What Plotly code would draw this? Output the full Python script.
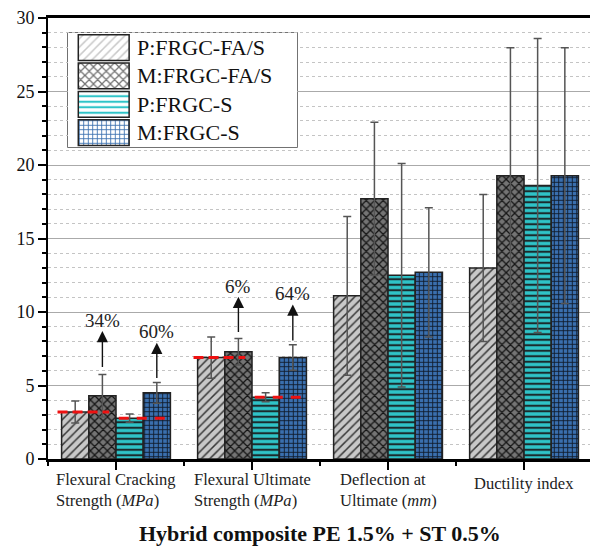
import plotly.graph_objects as go

# ---------------- data ----------------
categories = [
    "Flexural Cracking<br>Strength (<i>MPa</i>)",
    "Flexural Ultimate<br>Strength (<i>MPa</i>)",
    "Deflection at<br>Ultimate (<i>mm</i>)",
    "Ductility index",
]
series_names = ["P:FRGC-FA/S", "M:FRGC-FA/S", "P:FRGC-S", "M:FRGC-S"]

p_fas = [3.2, 6.9, 11.1, 13.0]
p_fas_err = [0.75, 1.4, 5.4, 5.0]
m_fas = [4.3, 7.3, 17.7, 19.27]
m_fas_err = [1.45, 0.9, 5.2, 8.7]
p_s = [2.78, 4.2, 12.5, 18.6]
p_s_err = [0.28, 0.3, 7.6, 10.0]
m_s = [4.5, 6.9, 12.7, 19.27]
m_s_err = [0.7, 0.87, 4.4, 8.7]

values = [p_fas, m_fas, p_s, m_s]
errors = [p_fas_err, m_fas_err, p_s_err, m_s_err]

y_tickvals = [0, 5, 10, 15, 20, 25, 30]

# percentage increase annotations (category index, series index, label, arrow tail, arrow head, label y)
pct_cat = [0, 0, 1, 1]
pct_series = [1, 3, 1, 3]
pct_labels = ["34%", "60%", "6%", "64%"]
pct_tail = [6.15, 5.4, 8.54, 7.96]
pct_head = [8.7, 7.9, 11.03, 10.51]
pct_text_y = [9.44, 8.65, 11.76, 11.26]

# reference (plain) levels shown with red dashed lines in the first two groups
ref_groups = [0, 1]

title_text = "<b>Hybrid composite PE 1.5% + ST 0.5%</b>"

# ---------------- style ----------------
FONT = "Liberation Serif"


def serif(t):
    return "<span style=\"font-family:'Liberation Serif',serif\">" + str(t) + "</span>"


bg_colors = ["#c8c8c8", "#747474", "#2fc4c8", "#3a6fae"]
fg_colors = ["#383838", "#151515", "#1b2b2d", "#0e1a28"]
pat_shapes = ["/", "x", "-", "+"]
pat_sizes = [6, 6, 5.5, 4.5]
pat_solid = [0.25, 0.38, 0.38, 0.35]

n = len(categories)
xs = list(range(n))
bar_w = 0.2
offsets = [(k - 1.5) * bar_w for k in range(4)]

fig = go.Figure()

for k in range(4):
    fig.add_trace(go.Bar(
        x=xs, y=values[k], name=series_names[k],
        marker=dict(color=bg_colors[k], line=dict(color="#222222", width=1.5),
                    pattern=dict(shape=pat_shapes[k], fgcolor=fg_colors[k], bgcolor=bg_colors[k],
                                 size=pat_sizes[k], solidity=pat_solid[k], fillmode="replace")),
        error_y=dict(type="data", array=errors[k], visible=True, color="#555555",
                     thickness=1.5, width=4),
        showlegend=False, hoverinfo="skip",
    ))

# custom legend swatches (on a helper subplot)
fig.add_trace(go.Bar(
    orientation="h", y=list(range(4)), x=[0.222] * 4, base=[0.045] * 4, width=0.91,
    xaxis="x3", yaxis="y3",
    marker=dict(color=bg_colors, line=dict(color="#222222", width=1.5),
                pattern=dict(shape=pat_shapes, fgcolor=fg_colors, bgcolor=bg_colors,
                             size=pat_sizes, solidity=pat_solid, fillmode="replace")),
    showlegend=False, hoverinfo="skip",
))

annotations = []
shapes = []

# legend box + labels
shapes.append(dict(type="rect", xref="x3 domain", yref="y3 domain", x0=0, x1=1, y0=0, y1=1,
                   line=dict(color="#444444", width=1.5), fillcolor="white", layer="below"))
for k in range(4):
    annotations.append(dict(xref="x3", yref="y3", x=0.293, y=k, text=serif(series_names[k]),
                            showarrow=False, xanchor="left", yanchor="middle",
                            font=dict(family=FONT, size=22, color="#111111")))

# red dashed reference lines
for g in ref_groups:
    shapes.append(dict(type="line", xref="x", yref="y",
                       x0=g + offsets[0] - 0.13, x1=g + offsets[1] + 0.05,
                       y0=p_fas[g], y1=p_fas[g], layer="above",
                       line=dict(color="#ee1111", width=3, dash="10px,5px")))
    shapes.append(dict(type="line", xref="x", yref="y",
                       x0=g + offsets[2] - 0.08, x1=g + offsets[3] + 0.1,
                       y0=p_s[g], y1=p_s[g], layer="above",
                       line=dict(color="#ee1111", width=3, dash="10px,8px")))

# arrows + percentage labels
for i in range(len(pct_labels)):
    xa = pct_cat[i] + offsets[pct_series[i]]
    annotations.append(dict(xref="x", yref="y", axref="x", ayref="y",
                            x=xa, y=pct_head[i], ax=xa, ay=pct_tail[i], text="",
                            showarrow=True, arrowhead=2, arrowsize=1.6, arrowwidth=1.4,
                            arrowcolor="#111111", standoff=0, startstandoff=0))
    annotations.append(dict(xref="x", yref="y", x=xa, y=pct_text_y[i], text=serif(pct_labels[i]),
                            showarrow=False, xanchor="center", yanchor="middle",
                            font=dict(family=FONT, size=19, color="#222222")))

# category labels
for i, c in enumerate(categories):
    two = "<br>" in c
    annotations.append(dict(xref="x", yref="paper", x=i, y=0, text=c, showarrow=False,
                            xanchor="center", yanchor="top", align="left",
                            yshift=-9 if two else -13,
                            font=dict(family=FONT, size=16.5, color="#222222")))

# bottom title
annotations.append(dict(xref="x", yref="paper", x=(n - 1) / 2, y=-0.168, text=title_text,
                        showarrow=False, xanchor="center", yanchor="middle",
                        font=dict(family=FONT, size=22, color="#111111")))

fig.update_layout(
    width=590, height=548,
    margin=dict(l=48, r=0, t=18, b=89),
    plot_bgcolor="white", paper_bgcolor="white",
    font=dict(family=FONT),
    barmode="group", bargap=0.2, bargroupgap=0,
    shapes=shapes, annotations=annotations,
    xaxis=dict(range=[-0.5, 3.485], tickmode="array", tickvals=xs, showticklabels=False,
               ticks="outside", ticklen=8, tickwidth=1.5, tickcolor="black",
               minor=dict(tick0=0.5, dtick=1, ticks="outside", ticklen=4, tickwidth=1.5,
                          tickcolor="black", showgrid=False),
               showline=True, linecolor="black", linewidth=2.5, mirror=True,
               showgrid=False, zeroline=False),
    xaxis2=dict(overlaying="x", side="top", anchor="y", range=[-0.5, 3.485],
                tickmode="linear", tick0=-0.5, dtick=0.5, ticks="inside", ticklen=4,
                tickwidth=1.2, tickcolor="black", showticklabels=False, showgrid=False,
                showline=False, zeroline=False),
    yaxis=dict(range=[0, 30], tickmode="array", tickvals=y_tickvals,
               ticktext=[serif(v) for v in y_tickvals],
               ticks="outside", ticklen=8, tickwidth=1.5,
               tickcolor="black", showline=True, linecolor="black", linewidth=2,
               showgrid=True, gridcolor="#aaaaaa", gridwidth=1, zeroline=False,
               tickfont=dict(family=FONT, size=18, color="#111111"),
               minor=dict(tick0=0, dtick=1, ticks="outside", ticklen=4, tickwidth=1.5,
                          tickcolor="black", showgrid=True, gridcolor="#c4c4c4",
                          griddash="dot", gridwidth=1)),
    xaxis3=dict(domain=[0.0369, 0.4594], anchor="y3", range=[0, 1], visible=False),
    yaxis3=dict(domain=[0.7075, 0.966], anchor="x3", range=[3.51, -0.52], visible=False),
)

fig.write_html("out.html")
